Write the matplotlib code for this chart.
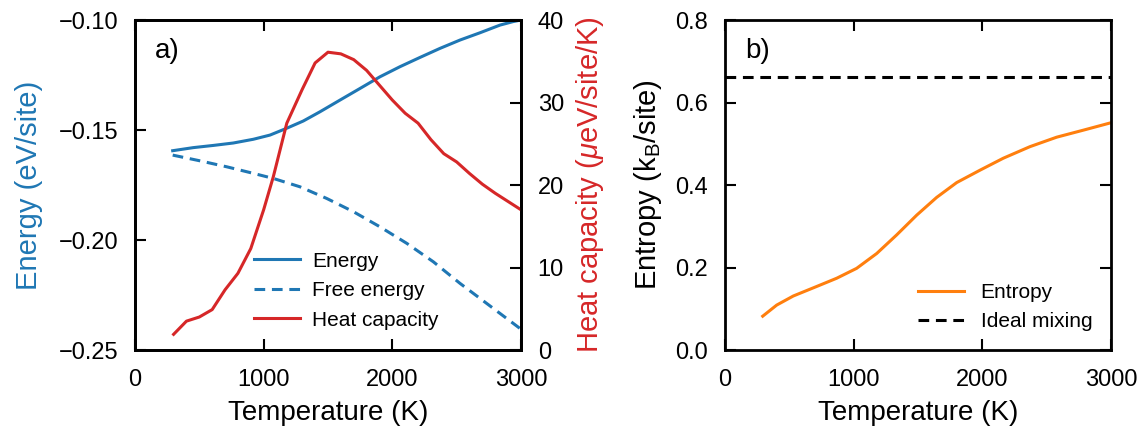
import matplotlib
matplotlib.use("Agg")
import matplotlib.pyplot as plt

plt.rcParams["font.family"] = ["Liberation Sans", "DejaVu Sans"]
plt.rcParams["mathtext.fontset"] = "custom"
plt.rcParams["mathtext.it"] = "Liberation Sans:italic"
plt.rcParams["mathtext.rm"] = "Liberation Sans"

# energy / free energy (eV/site)
t_energy = [293, 453, 609, 764, 920, 1049, 1179, 1308, 1438, 1593, 1749, 1904,
            2060, 2215, 2370, 2526, 2681, 2837, 2940, 3000]
energy = [-0.1594, -0.1580, -0.1570, -0.1559, -0.1542, -0.1523, -0.1492, -0.1459,
          -0.1417, -0.1364, -0.1311, -0.1258, -0.1212, -0.1170, -0.1129, -0.1091,
          -0.1058, -0.1023, -0.1007, -0.1000]

t_free = [293, 505, 712, 920, 1075, 1282, 1490, 1697, 1904, 2112, 2319, 2526, 2733, 2990]
free_energy = [-0.1614, -0.1640, -0.1667, -0.1697, -0.1720, -0.1758, -0.1811, -0.1871,
               -0.1940, -0.2015, -0.2099, -0.2197, -0.2288, -0.2401]

# heat capacity (ueV/site/K)
t_heat = [300, 400, 500, 600, 700, 800, 900, 1000, 1075, 1180, 1300, 1400, 1500,
          1600, 1700, 1800, 1900, 2000, 2100, 2200, 2300, 2400, 2500, 2600,
          2700, 2800, 2900, 3000]
heat_cap = [1.9, 3.5, 4.0, 4.9, 7.3, 9.3, 12.3, 17.0, 21.0, 27.5, 31.6, 34.8, 36.1,
            35.9, 35.2, 33.9, 32.1, 30.3, 28.7, 27.5, 25.5, 23.8, 22.8, 21.4,
            20.1, 19.0, 18.0, 17.0]

# entropy (kB/site)
t_entropy = [293, 402, 531, 712, 868, 1023, 1179, 1334, 1490, 1645, 1801, 1982,
             2163, 2370, 2578, 2785, 3000]
entropy = [0.082, 0.109, 0.131, 0.154, 0.174, 0.198, 0.234, 0.279, 0.327, 0.370,
           0.406, 0.436, 0.465, 0.493, 0.516, 0.533, 0.551]
ideal_mixing = 0.662

blue = "#1f77b4"
red = "#d62728"
orange = "#ff7f0e"

fig = plt.figure(figsize=(11.43, 4.28), dpi=100)
ax1 = fig.add_axes([0.1181, 0.1822, 0.3377, 0.771])
ax2 = ax1.twinx()
ax3 = fig.add_axes([0.6343, 0.1822, 0.3377, 0.771])

l1, = ax1.plot(t_energy, energy, color=blue, lw=2.2, label="Energy")
l2, = ax1.plot(t_free, free_energy, color=blue, lw=2.2, ls=(0, (3.5, 2.2)), label="Free energy")
l3, = ax2.plot(t_heat, heat_cap, color=red, lw=2.2, label="Heat capacity")

ax1.set_xlim(0, 3000)
ax1.set_ylim(-0.25, -0.10)
ax1.set_yticks([-0.25, -0.20, -0.15, -0.10])
ax1.set_yticklabels(["\u22120.25", "\u22120.20", "\u22120.15", "\u22120.10"])
ax2.set_ylim(0, 40)
ax2.set_yticks([0, 10, 20, 30, 40])
ax1.set_xticks([0, 1000, 2000, 3000])
ax1.set_xlabel("Temperature (K)", fontsize=20, labelpad=6)
ax1.set_ylabel("Energy (eV/site)", fontsize=21, color=blue, labelpad=11)
ax2.set_ylabel(r"Heat capacity ($\mu$eV/site/K)", fontsize=21, color=red, labelpad=7)
ax1.text(0.052, 0.945, "a)", transform=ax1.transAxes, fontsize=20, va="top")
ax1.legend(handles=[l1, l2, l3], loc="lower left", bbox_to_anchor=(0.26, 0.005),
           frameon=False, fontsize=15, handlelength=2.2, handletextpad=0.6,
           labelspacing=0.5)

ax3.plot(t_entropy, entropy, color=orange, lw=2.2, label="Entropy")
ax3.axhline(ideal_mixing, color="black", lw=2.2, ls=(0, (3.5, 2.2)), label="Ideal mixing")
ax3.set_xlim(0, 3000)
ax3.set_ylim(0, 0.8)
ax3.set_xticks([0, 1000, 2000, 3000])
ax3.set_yticks([0.0, 0.2, 0.4, 0.6, 0.8])
ax3.set_xlabel("Temperature (K)", fontsize=20, labelpad=6)
ax3.set_ylabel(r"Entropy (k$_\mathrm{B}$/site)", fontsize=21, labelpad=8)
ax3.text(0.052, 0.945, "b)", transform=ax3.transAxes, fontsize=20, va="top")
ax3.legend(loc="lower right", frameon=False, fontsize=15, handlelength=2.2,
           labelspacing=0.5)

for ax in (ax1, ax2, ax3):
    for sp in ax.spines.values():
        sp.set_linewidth(2)
    ax.tick_params(direction="in", length=8, width=1.5, labelsize=17)
    ax.tick_params(axis="x", pad=14)
    ax.tick_params(axis="y", pad=12)
ax1.tick_params(top=True, right=False)
ax2.tick_params(right=True, left=False)
ax3.tick_params(top=True, right=True)

fig.savefig("out.png", dpi=100)
